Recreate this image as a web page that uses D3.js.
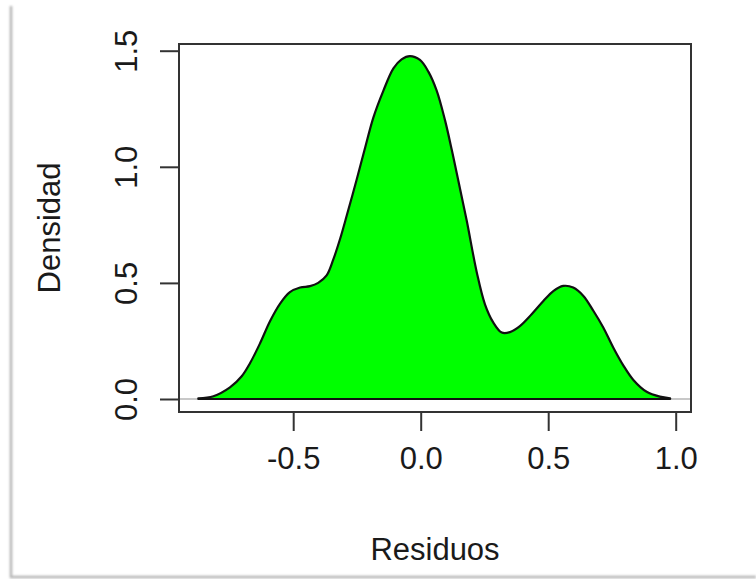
<!DOCTYPE html>
<html>
<head>
<meta charset="utf-8">
<script src="https://cdn.jsdelivr.net/npm/d3@7/dist/d3.min.js"></script>
<style>
  html, body { margin: 0; padding: 0; background: #ffffff; }
  svg { display: block; }
  text { font-family: "Liberation Sans", Arial, sans-serif; fill: #1a1a1a; }
</style>
</head>
<body>
<svg id="chart" width="756" height="579"></svg>
<script>
// Kernel density estimate of the residuals
const residuo = [
  -0.872, -0.813, -0.748, -0.702, -0.669, -0.630, -0.591, -0.552, -0.513, -0.473,
  -0.434, -0.402, -0.369, -0.343, -0.316, -0.290, -0.251, -0.218, -0.186, -0.147,
  -0.107, -0.075, -0.042, -0.003, 0.030, 0.062, 0.095, 0.122, 0.147, 0.180,
  0.220, 0.252, 0.285, 0.318, 0.350, 0.389, 0.435, 0.481, 0.520, 0.559,
  0.598, 0.638, 0.677, 0.716, 0.755, 0.795, 0.834, 0.886, 0.938, 0.978
];
const densidad = [
  0.003, 0.012, 0.050, 0.098, 0.155, 0.240, 0.335, 0.410, 0.460, 0.480,
  0.486, 0.500, 0.532, 0.600, 0.690, 0.790, 0.945, 1.082, 1.211, 1.326,
  1.424, 1.463, 1.477, 1.460, 1.410, 1.330, 1.202, 1.072, 0.943, 0.771,
  0.545, 0.408, 0.329, 0.286, 0.288, 0.314, 0.365, 0.422, 0.465, 0.487,
  0.480, 0.444, 0.380, 0.308, 0.222, 0.144, 0.082, 0.031, 0.010, 0.003
];
const xTicks = [-0.5, 0.0, 0.5, 1.0];
const yTicks = [0.0, 0.5, 1.0, 1.5];
const xTitle = "Residuos";
const yTitle = "Densidad";

const svg = d3.select("#chart");
// tick labels use a plain hyphen for negatives
const fmt = d => d.toFixed(1);

// page frame with a soft shadow on the left and bottom edges
const defs = svg.append("defs");
const sh = defs.append("filter").attr("id", "soft").attr("x", "-5%").attr("y", "-5%").attr("width", "110%").attr("height", "110%");
sh.append("feGaussianBlur").attr("stdDeviation", 1.2);
svg.append("path")
  .attr("d", "M11,6 L11,577 L756,577")
  .attr("fill", "none").attr("stroke", "#b5b5b5").attr("stroke-width", 2.5)
  .attr("filter", "url(#soft)");

const box = { left: 179, right: 691, top: 44, bottom: 412 };

const x = d3.scaleLinear().domain([0, 1]).range([420.7, 675.7]);
const y = d3.scaleLinear().domain([0, 1.5]).range([399, 50.7]);

// zero reference line
svg.append("line")
  .attr("x1", box.left).attr("x2", box.right)
  .attr("y1", y(0)).attr("y2", y(0))
  .attr("stroke", "#c8c8c8").attr("stroke-width", 2);

// density polygon
const pts = residuo.map((r, i) => [r, densidad[i]]);
const area = d3.area()
  .x(d => x(d[0]))
  .y0(y(0))
  .y1(d => y(d[1]))
  .curve(d3.curveCatmullRom.alpha(0.5));
svg.append("path")
  .datum(pts)
  .attr("d", area)
  .attr("fill", "#00ff00")
  .attr("stroke", "#111")
  .attr("stroke-width", 2.2)
  .attr("stroke-linejoin", "round");

// plot box
svg.append("rect")
  .attr("x", box.left).attr("y", box.top)
  .attr("width", box.right - box.left).attr("height", box.bottom - box.top)
  .attr("fill", "none").attr("stroke", "#333").attr("stroke-width", 2);

// x axis
const xAxis = d3.axisBottom(x).tickValues(xTicks).tickFormat(fmt)
  .tickSize(19).tickPadding(16);
const gx = svg.append("g").attr("transform", `translate(0,${box.bottom})`).call(xAxis);
gx.select(".domain").remove();
gx.selectAll(".tick line").attr("stroke", "#333").attr("stroke-width", 2);
gx.selectAll(".tick text").attr("font-size", 31).attr("fill", "#1a1a1a")
  .attr("font-family", "Liberation Sans, Arial, sans-serif");

// y axis
const yAxis = d3.axisLeft(y).tickValues(yTicks).tickFormat(fmt)
  .tickSize(19).tickPadding(0);
const gy = svg.append("g").attr("transform", `translate(${box.left},0)`).call(yAxis);
gy.select(".domain").remove();
gy.selectAll(".tick line").attr("stroke", "#333").attr("stroke-width", 2);
gy.selectAll(".tick text")
  .attr("font-size", 31).attr("fill", "#1a1a1a")
  .attr("font-family", "Liberation Sans, Arial, sans-serif")
  .attr("text-anchor", "middle")
  .attr("dy", null)
  .attr("x", null)
  .attr("transform", "translate(-42,0) rotate(-90)");

// axis titles
svg.append("text")
  .attr("x", (box.left + box.right) / 2).attr("y", 560)
  .attr("text-anchor", "middle").attr("font-size", 31)
  .text(xTitle);
svg.append("text")
  .attr("transform", `translate(60,${(box.top + box.bottom) / 2}) rotate(-90)`)
  .attr("text-anchor", "middle").attr("font-size", 31)
  .text(yTitle);
</script>
</body>
</html>
